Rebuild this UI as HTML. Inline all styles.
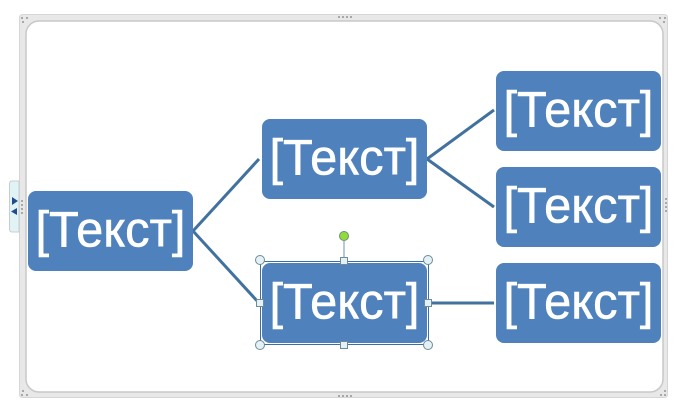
<!DOCTYPE html>
<html>
<head>
<meta charset="utf-8">
<style>
html,body{margin:0;padding:0;background:#fff;width:679px;height:412px;overflow:hidden}
svg{display:block}
text{font-family:"Liberation Sans",sans-serif;font-size:50px;fill:#fff;stroke:#fff;stroke-width:.6px;text-anchor:start}
</style>
</head>
<body>
<svg width="679" height="412" viewBox="0 0 679 412" xmlns="http://www.w3.org/2000/svg">
<!-- frame -->
<rect x="19.5" y="14.5" width="648" height="383" rx="3" fill="#e8e8e8" stroke="#d6d6d6"/>
<rect x="26" y="21" width="637" height="371" rx="13" fill="#fff" stroke="#c8c8c8" stroke-width="1.5"/>
<!-- frame grips -->
<g fill="#a8a8a8">
<rect x="21" y="17" width="2" height="2"/><rect x="26" y="17" width="2" height="2"/><rect x="22" y="21" width="2" height="2"/>
<rect x="664" y="17" width="2" height="2"/><rect x="659" y="17" width="2" height="2"/><rect x="663" y="21" width="2" height="2"/>
<rect x="21" y="394" width="2" height="2"/><rect x="26" y="394" width="2" height="2"/><rect x="22" y="390" width="2" height="2"/>
<rect x="664" y="394" width="2" height="2"/><rect x="660" y="394" width="2" height="2"/><rect x="664" y="390" width="2" height="2"/>
<rect x="338" y="16" width="2" height="2"/><rect x="342" y="16" width="2" height="2"/><rect x="346" y="16" width="2" height="2"/><rect x="350" y="16" width="2" height="2"/>
<rect x="338" y="395" width="2" height="2"/><rect x="342" y="395" width="2" height="2"/><rect x="346" y="395" width="2" height="2"/><rect x="350" y="395" width="2" height="2"/>
<rect x="21" y="200" width="2" height="2"/><rect x="21" y="204" width="2" height="2"/><rect x="21" y="208" width="2" height="2"/><rect x="21" y="212" width="2" height="2"/>
<rect x="665" y="198" width="2" height="2"/><rect x="665" y="202" width="2" height="2"/><rect x="665" y="206" width="2" height="2"/><rect x="665" y="210" width="2" height="2"/>
</g>
<!-- side tab -->
<path d="M19 181H12Q9.500 181 9.500 184V229Q9.500 232 12 232H19Z" fill="#e2f3f6" stroke="#c4cfd2"/>
<path d="M12 197L18 201L12 205Z" fill="#1f4e8c"/>
<path d="M17 208L11 211.500L17 215Z" fill="#1f4e8c"/>
<!-- connectors -->
<g stroke="#41719f" stroke-width="3" fill="none">
<path d="M193 231L259 159"/>
<path d="M193 231L259 303"/>
<path d="M427 159L494 110"/>
<path d="M427 159L494 207"/>
<path d="M427 303H494"/>
</g>
<!-- boxes -->
<g fill="#4f81bd">
<rect x="28" y="191" width="165" height="80" rx="8"/>
<rect x="262" y="119" width="165" height="80" rx="8"/>
<rect x="262" y="263" width="165" height="80" rx="8"/>
<rect x="496" y="71" width="165" height="80" rx="8"/>
<rect x="496" y="167" width="165" height="80" rx="8"/>
<rect x="496" y="263" width="165" height="80" rx="8"/>
</g>
<!-- labels -->
<text x="35.500" y="246.500" textLength="150" lengthAdjust="spacingAndGlyphs">[Текст]</text>
<text x="269.500" y="174.500" textLength="150" lengthAdjust="spacingAndGlyphs">[Текст]</text>
<text x="269.500" y="318.500" textLength="150" lengthAdjust="spacingAndGlyphs">[Текст]</text>
<text x="503.500" y="126.500" textLength="150" lengthAdjust="spacingAndGlyphs">[Текст]</text>
<text x="503.500" y="222.500" textLength="150" lengthAdjust="spacingAndGlyphs">[Текст]</text>
<text x="503.500" y="318.500" textLength="150" lengthAdjust="spacingAndGlyphs">[Текст]</text>
<!-- selection -->
<rect x="260.500" y="261.500" width="168" height="83" fill="none" stroke="#3f6f9f" stroke-width="1"/>
<path d="M344 241V261" stroke="#9fb6cf" stroke-width="1.500"/>
<circle cx="344" cy="236" r="4.500" fill="#8fdc3a" stroke="#6f8f6f"/>
<g fill="#e4f1f6" stroke="#6f8c96">
<circle cx="260" cy="260" r="4.500"/>
<circle cx="428" cy="260" r="4.500"/>
<circle cx="260" cy="345" r="4.500"/>
<circle cx="428" cy="345" r="4.500"/>
<rect x="340.500" y="257.500" width="7" height="7"/>
<rect x="340.500" y="341.500" width="7" height="7"/>
<rect x="256.500" y="299.500" width="7" height="7"/>
<rect x="424.500" y="299.500" width="7" height="7"/>
</g>
</svg>
</body>
</html>
